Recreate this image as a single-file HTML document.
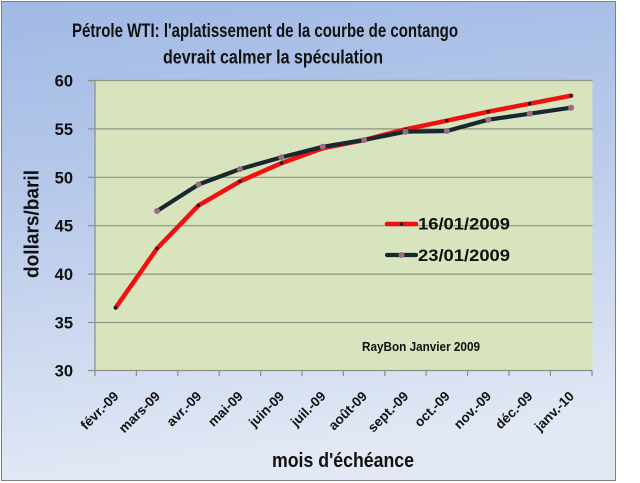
<!DOCTYPE html>
<html>
<head>
<meta charset="utf-8">
<style>
  html, body { margin:0; padding:0; background:#ffffff; }
  body { width:640px; height:483px; overflow:hidden; }
  svg { display:block; }
  text { font-family: "Liberation Sans", "DejaVu Sans", sans-serif; font-weight: bold; fill:#111; }
</style>
</head>
<body>
<svg width="640" height="483" viewBox="0 0 640 483" xmlns="http://www.w3.org/2000/svg">
  <defs>
    <linearGradient id="bg" x1="0" y1="0" x2="0.15" y2="1">
      <stop offset="0" stop-color="#a0b9e4"/>
      <stop offset="0.45" stop-color="#bacbeb"/>
      <stop offset="1" stop-color="#e2e9f5"/>
    </linearGradient>
  </defs>

  <!-- chart background -->
  <rect x="1.5" y="1.5" width="614" height="479" fill="url(#bg)" stroke="#7f7f7f" stroke-width="1"/>

  <!-- title -->
  <text x="265" y="37" font-size="19" text-anchor="middle" textLength="386" lengthAdjust="spacingAndGlyphs">Pétrole WTI: l'aplatissement  de la courbe de contango</text>
  <text x="273" y="63.5" font-size="19" text-anchor="middle" textLength="220" lengthAdjust="spacingAndGlyphs">devrait calmer la spéculation</text>

  <!-- plot area -->
  <rect x="95" y="80" width="497.5" height="290.5" fill="#d7e4bd"/>

  <!-- gridlines -->
  <g stroke="#8d9585" stroke-width="1.2">
    <line x1="95" y1="80.5" x2="592.5" y2="80.5"/>
    <line x1="95" y1="128.9" x2="592.5" y2="128.9"/>
    <line x1="95" y1="177.3" x2="592.5" y2="177.3"/>
    <line x1="95" y1="225.7" x2="592.5" y2="225.7"/>
    <line x1="95" y1="274.1" x2="592.5" y2="274.1"/>
    <line x1="95" y1="322.5" x2="592.5" y2="322.5"/>
  </g>
  <!-- axes -->
  <g stroke="#8a8f88" stroke-width="1.2">
    <line x1="95" y1="80" x2="95" y2="370.5"/>
    <line x1="95" y1="370.5" x2="592.5" y2="370.5"/>
    <line x1="88" y1="80.5" x2="95" y2="80.5"/>
    <line x1="88" y1="128.9" x2="95" y2="128.9"/>
    <line x1="88" y1="177.3" x2="95" y2="177.3"/>
    <line x1="88" y1="225.7" x2="95" y2="225.7"/>
    <line x1="88" y1="274.1" x2="95" y2="274.1"/>
    <line x1="88" y1="322.5" x2="95" y2="322.5"/>
    <line x1="88" y1="370.5" x2="95" y2="370.5"/>
    <line x1="95" y1="370.5" x2="95" y2="376"/>
    <line x1="136.4" y1="370.5" x2="136.4" y2="376"/>
    <line x1="177.8" y1="370.5" x2="177.8" y2="376"/>
    <line x1="219.2" y1="370.5" x2="219.2" y2="376"/>
    <line x1="260.6" y1="370.5" x2="260.6" y2="376"/>
    <line x1="302" y1="370.5" x2="302" y2="376"/>
    <line x1="343.4" y1="370.5" x2="343.4" y2="376"/>
    <line x1="384.8" y1="370.5" x2="384.8" y2="376"/>
    <line x1="426.2" y1="370.5" x2="426.2" y2="376"/>
    <line x1="467.6" y1="370.5" x2="467.6" y2="376"/>
    <line x1="509" y1="370.5" x2="509" y2="376"/>
    <line x1="550.4" y1="370.5" x2="550.4" y2="376"/>
    <line x1="592" y1="370.5" x2="592" y2="376"/>
  </g>

  <!-- y tick labels -->
  <g font-size="16.5" text-anchor="end">
    <text x="73" y="86.5">60</text>
    <text x="73" y="134.9">55</text>
    <text x="73" y="183.3">50</text>
    <text x="73" y="231.7">45</text>
    <text x="73" y="280.1">40</text>
    <text x="73" y="328.5">35</text>
    <text x="73" y="376.5">30</text>
  </g>

  <!-- x tick labels -->
  <g font-size="13.5" text-anchor="end">
    <text transform="translate(119.5,397) rotate(-45)">févr.-09</text>
    <text transform="translate(160.9,397) rotate(-45)">mars-09</text>
    <text transform="translate(202.3,397) rotate(-45)">avr.-09</text>
    <text transform="translate(243.7,397) rotate(-45)">mai-09</text>
    <text transform="translate(285.1,397) rotate(-45)">juin-09</text>
    <text transform="translate(326.5,397) rotate(-45)">juil.-09</text>
    <text transform="translate(367.9,397) rotate(-45)">août-09</text>
    <text transform="translate(409.3,397) rotate(-45)">sept.-09</text>
    <text transform="translate(450.7,397) rotate(-45)">oct.-09</text>
    <text transform="translate(492.1,397) rotate(-45)">nov.-09</text>
    <text transform="translate(533.5,397) rotate(-45)">déc.-09</text>
    <text transform="translate(574.9,397) rotate(-45)">janv.-10</text>
  </g>

  <!-- axis titles -->
  <text x="343" y="467" font-size="20" text-anchor="middle" textLength="142" lengthAdjust="spacingAndGlyphs">mois d'échéance</text>
  <text transform="translate(38.5,224) rotate(-90)" font-size="20" text-anchor="middle" textLength="108" lengthAdjust="spacingAndGlyphs">dollars/baril</text>

  <!-- watermark -->
  <text x="362" y="351" font-size="12.5" textLength="118" lengthAdjust="spacingAndGlyphs">RayBon Janvier 2009</text>

  <!-- red series 16/01/2009 -->
  <polyline fill="none" stroke="#f01010" stroke-width="4.5" stroke-linejoin="round" stroke-linecap="round"
    points="115.7,307.7 157.1,248.4 198.5,205.4 239.9,181.4 281.3,163.2 322.7,148.3 364.1,140.0 405.5,129.3 446.9,120.7 488.3,111.7 529.7,103.7 571.1,95.7"/>
  <g fill="#111">
    <rect x="114.2" y="306.2" width="3" height="3"/>
    <rect x="155.6" y="246.9" width="3" height="3"/>
    <rect x="197" y="203.9" width="3" height="3"/>
    <rect x="238.4" y="179.9" width="3" height="3"/>
    <rect x="279.8" y="161.7" width="3" height="3"/>
    <rect x="321.2" y="146.8" width="3" height="3"/>
    <rect x="362.6" y="138.5" width="3" height="3"/>
    <rect x="404" y="127.8" width="3" height="3"/>
    <rect x="445.4" y="119.2" width="3" height="3"/>
    <rect x="486.8" y="110.2" width="3" height="3"/>
    <rect x="528.2" y="102.2" width="3" height="3"/>
    <rect x="569.6" y="94.2" width="3" height="3"/>
  </g>

  <!-- black series 23/01/2009 -->
  <polyline fill="none" stroke="#182830" stroke-width="4.2" stroke-linejoin="round" stroke-linecap="round"
    points="157.1,211.0 198.5,184.5 239.9,169.1 281.3,157.4 322.7,146.8 364.1,140.0 405.5,131.7 446.9,131.0 488.3,119.7 529.7,113.7 571.1,107.7"/>
  <g fill="#9a6c82">
    <circle cx="157.1" cy="211.0" r="3"/>
    <circle cx="198.5" cy="184.5" r="3"/>
    <circle cx="239.9" cy="169.1" r="3"/>
    <circle cx="281.3" cy="157.4" r="3"/>
    <circle cx="322.7" cy="146.8" r="3"/>
    <circle cx="364.1" cy="140.0" r="3"/>
    <circle cx="405.5" cy="131.7" r="3"/>
    <circle cx="446.9" cy="131.0" r="3"/>
    <circle cx="488.3" cy="119.7" r="3"/>
    <circle cx="529.7" cy="113.7" r="3"/>
    <circle cx="571.1" cy="107.7" r="3"/>
  </g>

  <!-- legend -->
  <line x1="387" y1="224" x2="416" y2="224" stroke="#f01010" stroke-width="4.5" stroke-linecap="round"/>
  <rect x="400" y="222.5" width="3" height="3" fill="#111"/>
  <text x="418" y="229.5" font-size="17" textLength="92" lengthAdjust="spacingAndGlyphs">16/01/2009</text>

  <line x1="387" y1="255" x2="416" y2="255" stroke="#182830" stroke-width="4.2" stroke-linecap="round"/>
  <circle cx="401.5" cy="255" r="3" fill="#9a6c82"/>
  <text x="418" y="261" font-size="17" textLength="92" lengthAdjust="spacingAndGlyphs">23/01/2009</text>
</svg>
</body>
</html>
